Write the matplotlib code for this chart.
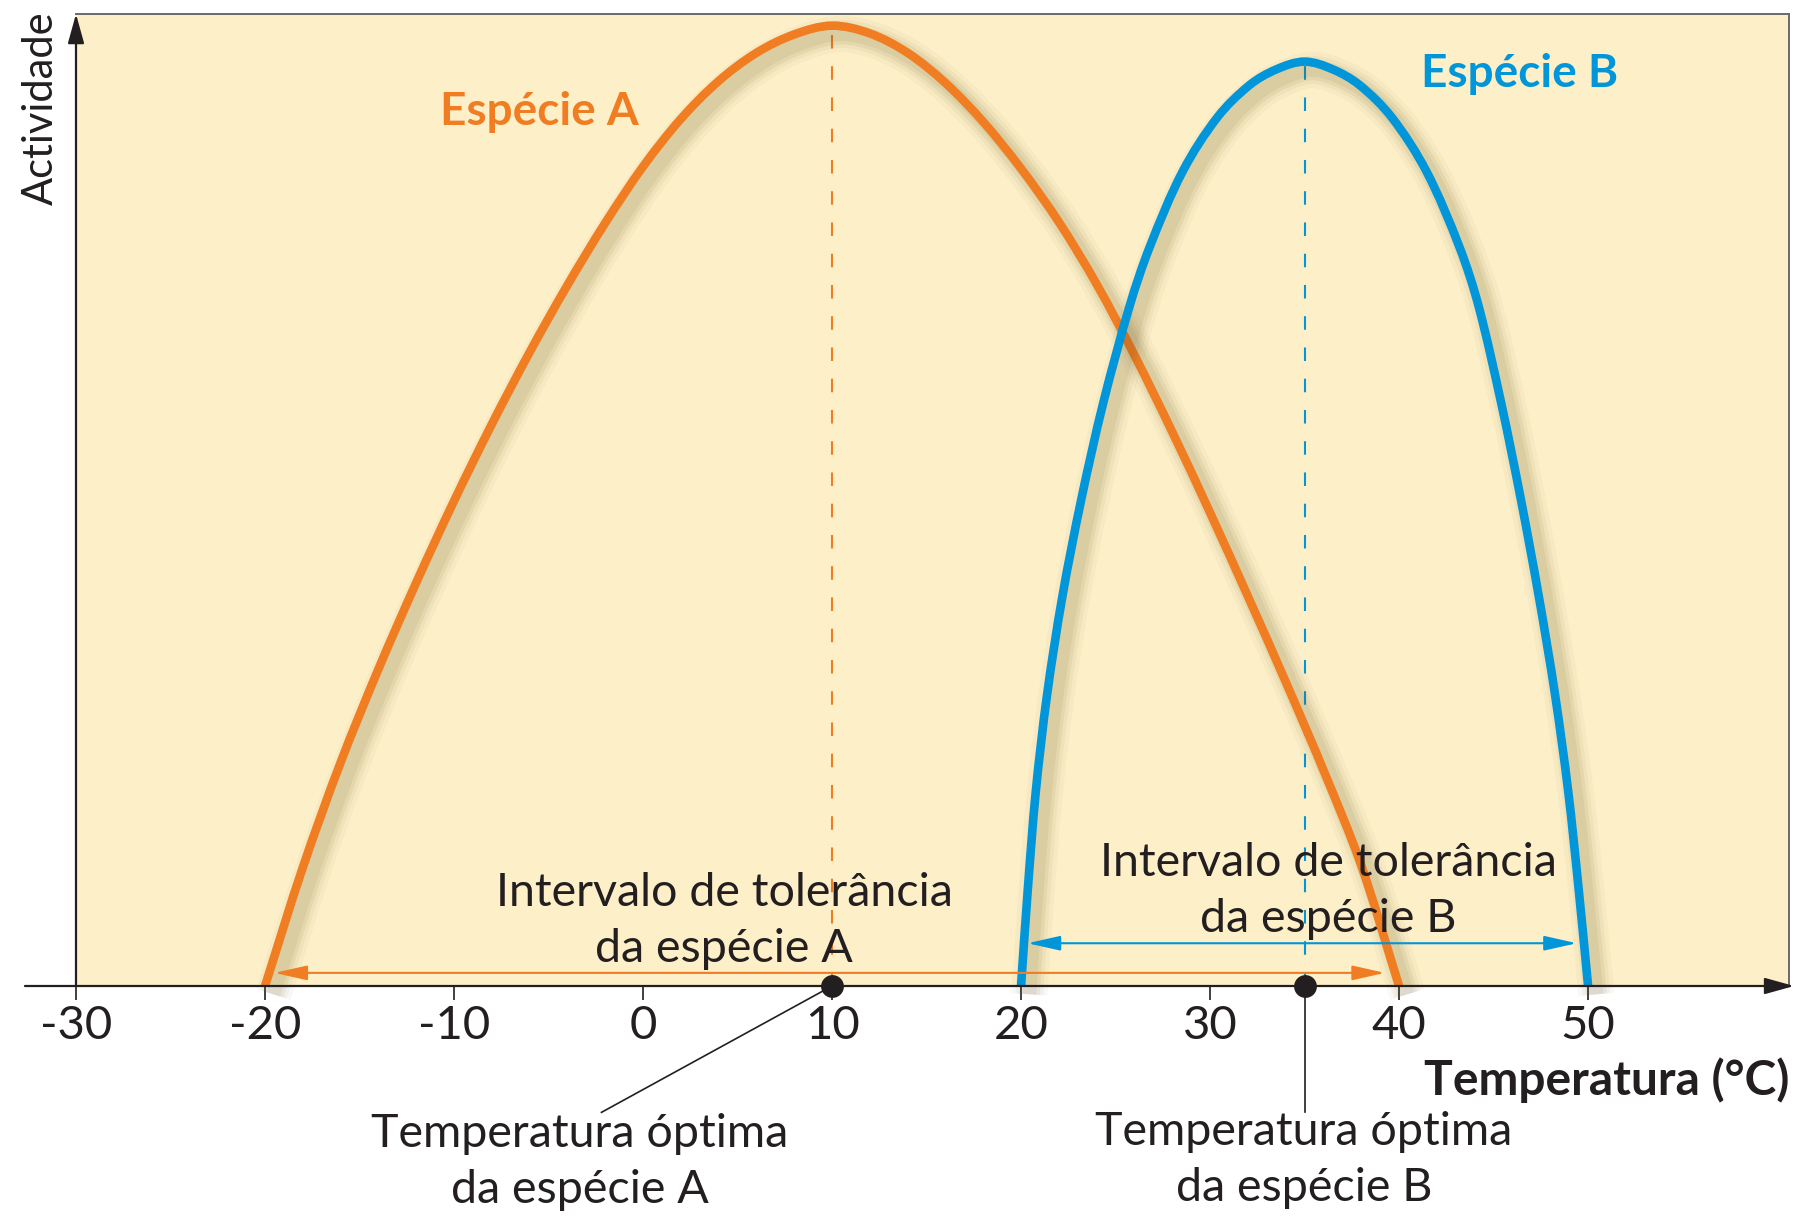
import math
import matplotlib
matplotlib.use('Agg')
import matplotlib.pyplot as plt
import matplotlib.patheffects as pe
from matplotlib.path import Path
from matplotlib.patches import PathPatch

plt.rcParams['font.family'] = ['Lato', 'DejaVu Sans']

# ---------------- data ----------------
temp_a = [-20, -18, -16, -14, -12, -10, -8, -6, -4, -2, 0, 2, 4, 6, 8, 10,
          12, 14, 16, 18, 20, 22, 24, 26, 28, 30, 32, 34, 36, 38, 40]
act_a = [0.0, 12.2, 23.0, 32.6, 41.5, 49.9, 57.8, 65.2, 72.1, 78.5, 84.3, 89.2,
         93.1, 96.0, 97.9, 98.8,
         98.0, 96.0, 92.9, 88.9, 84.1, 78.6, 72.2, 64.9, 57.0, 48.7, 40.1, 31.3,
         22.2, 12.4, 0.0]

temp_b = [20.0, 20.36, 20.78, 21.38, 22.18, 23.18, 24.35, 25.75, 26.8, 28.55, 30.4,
          32.1, 33.5, 35.0, 36.5, 37.9, 39.6, 41.45, 43.2, 44.2, 45.4, 46.45, 47.4,
          48.25, 48.95, 49.5, 50.0]
act_b = [0.0, 10.0, 20.0, 30.0, 40.0, 50.0, 60.0, 70.0, 76.0, 83.8, 89.4,
         92.7, 94.3, 95.1, 94.3, 92.7, 89.4, 83.8, 76.0, 70.0, 60.0, 50.0, 40.0,
         30.0, 20.0, 10.0, 0.0]

optimum_a = 10
optimum_b = 35
tolerance_a = (-20, 40)
tolerance_b = (20, 50)

xticks = [-30, -20, -10, 0, 10, 20, 30, 40, 50]
xticklabels = ['-30', '-20', '-10', '0', '10', '20', '30', '40', '50']

# ---------------- style ----------------
ORANGE = '#F07D22'
BLUE = '#0096D9'
BG = '#FDEFC8'
TXT = '#231F20'

W, H = 1806, 1218
fig = plt.figure(figsize=(W / 100, H / 100), dpi=100)
fig.patch.set_facecolor('white')


def fx(px):
    return px / W


def fy(py):
    return 1 - py / H


XLIM = (-30, 60.63)
YLIM = (0, 100)
AX_W_PX = 1789 - 76
AX_H_PX = 986 - 14
ax = fig.add_axes([fx(76), fy(986), AX_W_PX / W, AX_H_PX / H])
ax.set_xlim(*XLIM)
ax.set_ylim(*YLIM)
ax.set_facecolor(BG)

for s in ['top', 'right']:
    ax.spines[s].set_color('#6a6a6a')
    ax.spines[s].set_linewidth(1.4)
ax.spines['left'].set_visible(False)
ax.spines['bottom'].set_visible(False)

ax.set_yticks([])
ax.set_xticks(xticks)
ax.set_xticklabels(xticklabels)
ax.tick_params(axis='x', direction='out', length=10, width=1.2, pad=4,
               labelsize=34, colors=TXT)

# axes with arrows
ax.annotate('', xy=(60.9, 0), xytext=(-32.7, 0), xycoords='data',
            arrowprops=dict(arrowstyle='-|>,head_length=18,head_width=5',
                            mutation_scale=1, color='#231F20', lw=1.6,
                            shrinkA=0, shrinkB=0), annotation_clip=False, zorder=6)
ax.annotate('', xy=(-30, 100), xytext=(-30, 0), xycoords='data',
            arrowprops=dict(arrowstyle='-|>,head_length=18,head_width=5',
                            mutation_scale=1, color='#231F20', lw=1.6,
                            shrinkA=0, shrinkB=0), annotation_clip=False, zorder=6)


def shadow_effects():
    effs = []
    for w, a in [(26, 0.04), (20, 0.055), (15, 0.07), (10, 0.08)]:
        effs.append(pe.SimpleLineShadow(offset=(6, -6), shadow_color='#6b5a2a',
                                        alpha=a, rho=1, linewidth=w))
    effs.append(pe.Normal())
    return effs


def smooth_path(xs, ys):
    """Smooth cubic Bezier path through the points; tangents computed in
    screen-proportional space, handle length = chord / 3."""
    sx = AX_W_PX / (XLIM[1] - XLIM[0])
    sy = AX_H_PX / (YLIM[1] - YLIM[0])
    pts = [(x * sx, y * sy) for x, y in zip(xs, ys)]
    n = len(pts)
    tang = []
    for i in range(n):
        a = pts[max(i - 1, 0)]
        b = pts[min(i + 1, n - 1)]
        dx, dy = b[0] - a[0], b[1] - a[1]
        L = math.hypot(dx, dy)
        tang.append((dx / L, dy / L))
    verts = [pts[0]]
    codes = [Path.MOVETO]
    for i in range(n - 1):
        p1, p2 = pts[i], pts[i + 1]
        d = math.hypot(p2[0] - p1[0], p2[1] - p1[1]) / 3
        c1 = (p1[0] + tang[i][0] * d, p1[1] + tang[i][1] * d)
        c2 = (p2[0] - tang[i + 1][0] * d, p2[1] - tang[i + 1][1] * d)
        verts += [c1, c2, p2]
        codes += [Path.CURVE4] * 3
    verts = [(vx / sx, vy / sy) for vx, vy in verts]
    return Path(verts, codes)


for xs, ys, col in [(temp_a, act_a, ORANGE), (temp_b, act_b, BLUE)]:
    patch = PathPatch(smooth_path(xs, ys), facecolor='none', edgecolor=col,
                      lw=6.2, capstyle='butt', joinstyle='round', clip_on=False,
                      zorder=4)
    patch.set_path_effects(shadow_effects())
    ax.add_patch(patch)

# dashed optimum lines
ax.plot([optimum_a, optimum_a], [0, max(act_a)], color=ORANGE, lw=1.5,
        ls=(0, (6.5, 8.5)), zorder=3)
ax.plot([optimum_b, optimum_b], [0, max(act_b)], color=BLUE, lw=1.5,
        ls=(0, (6.5, 8.5)), zorder=3)

# tolerance interval arrows
ax.annotate('', xy=(tolerance_a[0] + 0.5, 1.35), xytext=(tolerance_a[1] - 0.75, 1.35),
            arrowprops=dict(arrowstyle='<|-|>,head_length=20,head_width=4.5',
                            mutation_scale=1, color=ORANGE, lw=1.5,
                            shrinkA=0, shrinkB=0), zorder=5)
ax.annotate('', xy=(tolerance_b[0] + 0.35, 4.4), xytext=(tolerance_b[1] - 0.6, 4.4),
            arrowprops=dict(arrowstyle='<|-|>,head_length=20,head_width=4.5',
                            mutation_scale=1, color=BLUE, lw=1.5,
                            shrinkA=0, shrinkB=0), zorder=5)

# optimum dots and leader lines
ax.scatter([optimum_a, optimum_b], [0, 0], s=270, color='#231F20', zorder=8,
           clip_on=False, linewidths=0)
ax.plot([optimum_a, -2.2], [0, -13.0], color='#231F20', lw=1.2, clip_on=False, zorder=7)
ax.plot([optimum_b, optimum_b], [0, -13.0], color='#231F20', lw=1.2, clip_on=False, zorder=7)

# ---------------- texts ----------------
fig.text(fx(41), fy(108), 'Actividade', rotation=90, ha='center', va='center',
         fontsize=30, color=TXT)
fig.text(fx(539), fy(112), 'Espécie A', ha='center', va='center',
         fontsize=33, color=ORANGE, fontweight='bold')
fig.text(fx(1520), fy(74), 'Espécie B', ha='center', va='center',
         fontsize=33, color=BLUE, fontweight='bold')
fig.text(fx(724), fy(921), 'Intervalo de tolerância\nda espécie A', ha='center',
         va='center', fontsize=33.6, color=TXT, linespacing=1.42)
fig.text(fx(1328), fy(891), 'Intervalo de tolerância\nda espécie B', ha='center',
         va='center', fontsize=33.6, color=TXT, linespacing=1.42)
fig.text(fx(1789), fy(1080), 'Temperatura (°C)', ha='right', va='center',
         fontsize=34.5, color=TXT, fontweight='bold')
fig.text(fx(580), fy(1162), 'Temperatura óptima\nda espécie A', ha='center',
         va='center', fontsize=33.6, color=TXT, linespacing=1.42)
fig.text(fx(1304), fy(1160), 'Temperatura óptima\nda espécie B', ha='center',
         va='center', fontsize=33.6, color=TXT, linespacing=1.42)

fig.savefig('out.png', dpi=100, facecolor='white')
